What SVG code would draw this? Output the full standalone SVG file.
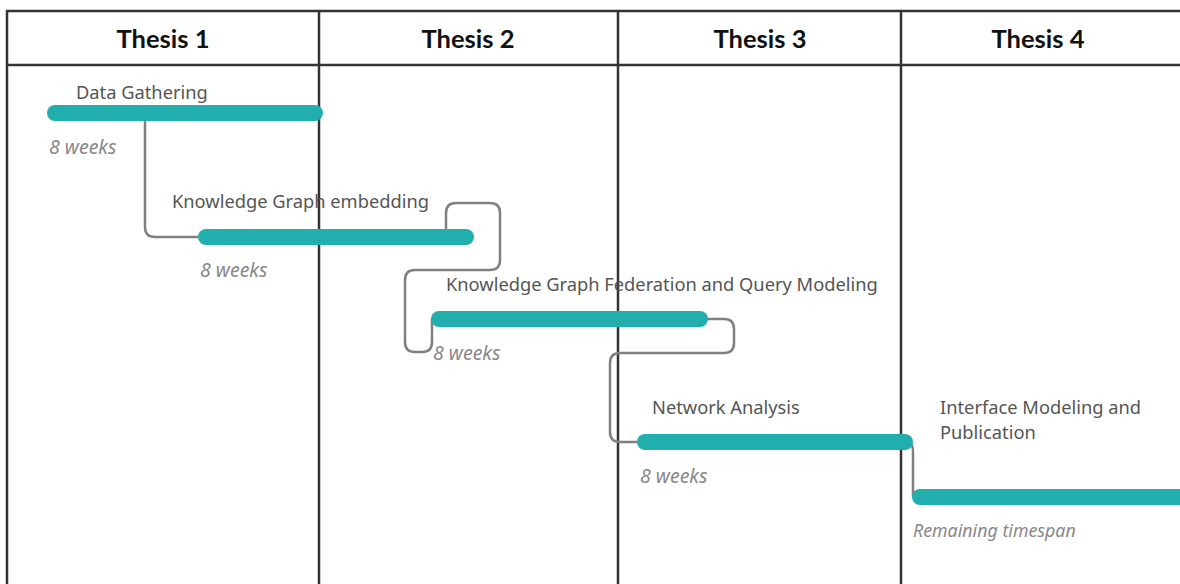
<svg xmlns="http://www.w3.org/2000/svg" width="1180" height="584" viewBox="0 0 1180 584">
  <style>
    .grid { stroke: #333333; stroke-width: 2.5; fill: none; }
    .head { font-family: Lato, "Liberation Sans", sans-serif; font-weight: bold; font-size: 25.5px; fill: #111111; text-anchor: middle; }
    .bar { stroke: #22aeac; stroke-width: 16; stroke-linecap: round; fill: none; }
    .link { stroke: #808080; stroke-width: 2.5; fill: none; stroke-linejoin: round; }
    .label { font-family: "Noto Sans", "Open Sans", sans-serif; font-size: 18.3px; fill: #555555; }
    .dur { font-family: "Noto Sans", "Open Sans", sans-serif; font-size: 19.5px; font-style: italic; fill: #888888; }
    .dur-alt { font-family: "Noto Sans", "Open Sans", sans-serif; font-size: 17.8px; font-style: italic; fill: #888888; }
  </style>
  <rect width="1180" height="584" fill="#ffffff"/>

  <!-- swimlane grid -->
  <g id="lanes">
    <path class="grid" d="M7,600 V11 H1190 M7,65 H1190 M319,11 V600 M618,11 V600 M901,11 V600"/>
    <text class="head" x="163" y="48">Thesis 1</text>
    <text class="head" x="468" y="48">Thesis 2</text>
    <text class="head" x="760" y="48">Thesis 3</text>
    <text class="head" x="1038" y="48">Thesis 4</text>
  </g>

  <!-- dependency connectors -->
  <g id="connectors">
    <path class="link" d="M145,113 V227 Q145,237 155,237 H205"/>
    <path class="link" d="M446,237 V213 Q446,203 456,203 H490 Q500,203 500,213 V260 Q500,270 490,270 H415 Q405,270 405,280 V342 Q405,352 415,352 H422 Q432,352 432,342 V319"/>
    <path class="link" d="M706,319 H724 Q734,319 734,329 V343 Q734,353 724,353 H620 Q610,353 610,363 V432 Q610,442 620,442 H640"/>
    <path class="link" d="M909,442 Q913,444 913,452 V497"/>
  </g>

  <g id="task-data-gathering">
    <line class="bar" x1="55" y1="113" x2="315" y2="113"/>
    <text class="label" x="76" y="99">Data Gathering</text>
    <text class="dur" x="49" y="154">8 weeks</text>
  </g>

  <g id="task-kg-embedding">
    <line class="bar" x1="206" y1="237" x2="466" y2="237"/>
    <text class="label" x="172" y="208">Knowledge Graph embedding</text>
    <text class="dur" x="200" y="277">8 weeks</text>
  </g>

  <g id="task-kg-federation">
    <line class="bar" x1="439" y1="319" x2="700" y2="319"/>
    <text class="label" x="446" y="291">Knowledge Graph Federation and Query Modeling</text>
    <text class="dur" x="433" y="360">8 weeks</text>
  </g>

  <g id="task-network-analysis">
    <line class="bar" x1="645" y1="442" x2="905" y2="442"/>
    <text class="label" x="652" y="414">Network Analysis</text>
    <text class="dur" x="640" y="483">8 weeks</text>
  </g>

  <g id="task-interface">
    <line class="bar" x1="920" y1="497" x2="1200" y2="497"/>
    <text class="label" x="940" y="414">Interface Modeling and</text>
    <text class="label" x="940" y="439">Publication</text>
    <text class="dur-alt" x="913" y="537">Remaining timespan</text>
  </g>
</svg>
